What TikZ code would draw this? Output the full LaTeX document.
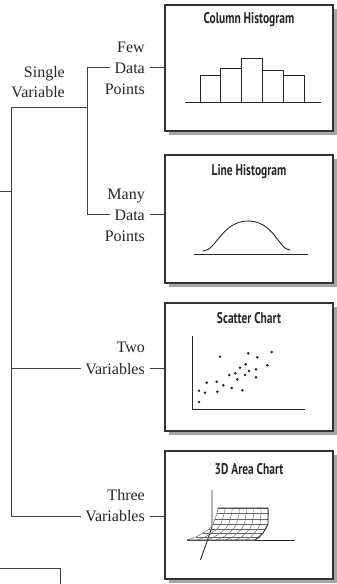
\documentclass[tikz,border=0pt]{standalone}
\usepackage{fontspec}
\setmainfont{Liberation Serif}
\newfontfamily\titlefont[FakeStretch=0.74]{PT Sans Bold}
\usetikzlibrary{shadows}
\begin{document}
\begin{tikzpicture}[x=1pt,y=-1pt,
  tree/.style={draw=black!75, line width=0.9pt},
  lbl/.style={font=\fontsize{16}{21}\selectfont, text=black!85, inner xsep=4.5pt, inner ysep=0pt, anchor=base east},
  chartbox/.style={draw=black!80, line width=1.2pt, fill=white, minimum width=168pt, inner sep=0pt,
    drop shadow={shadow xshift=4pt, shadow yshift=-4pt, fill=black!35, opacity=1}},
  ttl/.style={font=\titlefont\fontsize{15.5}{18}\selectfont, text=black!85, inner sep=0pt},
  plotline/.style={draw=black!85, line width=0.9pt},
  mesh/.style={draw=black!60, line width=0.45pt},
  dot/.style={fill=black!85, draw=none}]
\useasboundingbox (0,0) rectangle (337,584);

% chart boxes
\node[chartbox, minimum height=126pt] (box1) at (249,68) {};
\node[chartbox, minimum height=128pt] (box2) at (249,219) {};
\node[chartbox, minimum height=128pt] (box3) at (249,367) {};
\node[chartbox, minimum height=128pt] (box4) at (249,515) {};

\node[ttl] (t1) at (249,20) {Column Histogram};
\node[ttl] (t2) at (249,171.5) {Line Histogram};
\node[ttl] (t3) at (249,318.5) {Scatter Chart};
\node[ttl] (t4) at (249,469.5) {3D Area Chart};

% labels
\node[lbl] (svA) at (69.5,77.3) {Single};
\node[lbl] (svB) at (69.5,97.3) {Variable};
\node[lbl] (fewA) at (149.5,52) {Few};
\node[lbl] (fewB) at (149.5,73) {Data};
\node[lbl] (fewC) at (149.5,94) {Points};
\node[lbl] (manyA) at (149.5,199) {Many};
\node[lbl] (manyB) at (149.5,220) {Data};
\node[lbl] (manyC) at (149.5,241) {Points};
\node[lbl] (twoA) at (149.5,352.5) {Two};
\node[lbl] (twoB) at (149.5,374) {Variables};
\node[lbl] (threeA) at (149.5,500) {Three};
\node[lbl] (threeB) at (149.5,521.5) {Variables};

% tree
\coordinate (root) at (0,191);
\coordinate (trunk) at (11,191);
\coordinate (sv) at (87,107);
\draw[tree] (root) -- (trunk);
\draw[tree] (trunk |- sv) -- (sv);
\draw[tree] (trunk |- sv) -- (trunk |- threeB.west) -- (threeB.west);
\draw[tree] (trunk |- twoB.west) -- (twoB.west);
\draw[tree] (fewB.west) -- (sv |- fewB.west) -- (sv |- manyB.west) -- (manyB.west);
\draw[tree] (fewB.east) -- (fewB.east -| box1.west);
\draw[tree] (manyB.east) -- (manyB.east -| box2.west);
\draw[tree] (twoB.east) -- (twoB.east -| box3.west);
\draw[tree] (threeB.east) -- (threeB.east -| box4.west);

% fragment bottom left
\coordinate (fragA) at (0,568);
\coordinate (fragB) at (60,568);
\coordinate (fragC) at (60,584);
\draw[tree] (fragA) -- (fragB) -- (fragC);

% column histogram
\draw[plotline] (185,102.7) -- (321,102.7);
\draw[plotline] (200,102.7) rectangle (220.7,75.7);
\draw[plotline] (220.7,102.7) rectangle (241.7,68.3);
\draw[plotline] (241.7,102.7) rectangle (262.3,58.3);
\draw[plotline] (262.3,102.7) rectangle (283.3,70.7);
\draw[plotline] (283.3,102.7) rectangle (304.3,75.7);

% line histogram
\draw[plotline] (194,254) -- (308,254);
\draw[plotline] (203,251) .. controls (216,251) and (222,221) .. (248,221)
  .. controls (274,221) and (279,250) .. (290,250);

% scatter chart
\draw[plotline] (192,336) -- (192,409) -- (305,409);
\foreach \px/\py in {220/356.7, 248.3/353.3, 257.3/357.3, 271.7/352, 267.3/365.3,
  245.7/364.3, 240/367.7, 249/371, 256/369.3, 235.3/373.3, 229.3/375, 245/375,
  256/377.3, 237.3/379.3, 216.7/381.7, 206.7/382.7, 223.3/385.3, 231.7/388,
  242.3/390.3, 199/390.7, 205/392.7, 217.3/391.7, 199/402}
  \fill[dot] (\px,\py) circle (1.45pt);

% 3D area chart
\draw[plotline] (212,490) -- (212,527) -- (200.5,560);
\draw[plotline] (212,540) -- (295,540);
\foreach \dx/\dy/\w in {0/0/50, -1/5/51.5, -3/11/53, -5/16/55, -9/21/57, -15/25/60, -22/29/64, -31/32/68}
  \draw[mesh] (218+\dx,508+\dy) -- (218+\dx+\w,508+\dy);
\foreach \k in {0,...,7}
  \draw[mesh] (218+50*\k/7,508) -- (217+51.5*\k/7,513) -- (215+53*\k/7,519) -- (213+55*\k/7,524)
    -- (209+57*\k/7,529) -- (203+60*\k/7,533) -- (196+64*\k/7,537) -- (187+68*\k/7,540);
\draw[plotline, line width=0.7pt] (218,508) -- (268,508) -- (268,524) -- (263,533) -- (255,540) -- (187,540);
\end{tikzpicture}
\end{document}
